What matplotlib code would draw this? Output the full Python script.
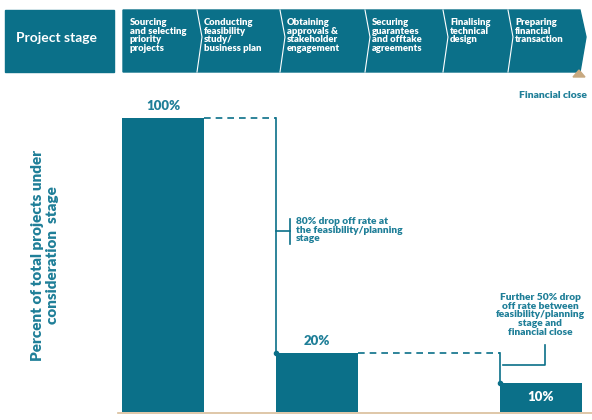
import matplotlib.pyplot as plt
from matplotlib.patches import Polygon, Rectangle

stages = ["Sourcing\nand selecting\npriority\nprojects", "Conducting\nfeasibility\nstudy/\nbusiness plan",
          "Obtaining\napprovals &\nstakeholder\nengagement", "Securing\nguarantees\nand offtake\nagreements",
          "Finalising\ntechnical\ndesign", "Preparing\nfinancial\ntransaction"]
values = [100, 20, 10]
labels = ["100%", "20%", "10%"]

teal = "#0b7089"
txt = "#1f7f98"
plt.rcParams['font.family'] = ['Lato', 'DejaVu Sans']

fig = plt.figure(figsize=(5.92, 4.2), dpi=100)

# overlay axes in pixel coordinates for header
ov = fig.add_axes([0, 0, 1, 1])
ov.set_xlim(0, 592)
ov.set_ylim(420, 0)
ov.axis("off")

ov.add_patch(Rectangle((5, 10), 109, 62, color=teal))
ov.text(16, 38, "Project stage", color="white", fontsize=10, fontweight="bold", va="center")
edges = [123, 197, 280, 365, 443, 508, 580]
ov.add_patch(Polygon([(123, 10), (580, 10), (586, 37), (580, 72), (123, 72)], color=teal))
for e in edges[1:-1]:
    ov.plot([e, e + 5, e], [10, 37, 72], color="white", lw=0.8)
for i, s in enumerate(stages):
    ov.text(edges[i] + 7, 18, s, color="white", fontsize=6.8, fontweight="heavy",
            va="top", linespacing=0.95)
ov.add_patch(Polygon([(573, 77), (585, 77), (579, 70)], color="#c8a980"))
ov.text(587, 95, "Financial close", color=txt, fontsize=7.5, fontweight="heavy", ha="right", va="center")
ov.text(45, 255, "Percent of total projects under\nconsideration  stage", color=txt, fontsize=11,
        fontweight="heavy", rotation=90, ha="center", va="center")
ov.plot([118, 592], [412.5, 412.5], color="#d9bd9a", lw=1.2)

# bar axes
ax = fig.add_axes([110 / 592, 8 / 420, 482 / 592, 294 / 420])
xs = [163, 317, 541]
w = 82
ax.bar(xs, values, width=w, color=teal)
ax.set_xlim(110, 592)
ax.set_ylim(0, 100)
ax.axis("off")
ax.text(xs[0], values[0] + 2, labels[0], ha="center", va="bottom", color=txt, fontsize=9.5, fontweight="heavy")
ax.text(xs[1], values[1] + 2, labels[1], ha="center", va="bottom", color=txt, fontsize=9.5, fontweight="heavy")
ax.text(xs[2], values[2] / 2, labels[2], ha="center", va="center", color="white", fontsize=9.5, fontweight="heavy")

# connectors
x1 = xs[0] + w / 2
x2 = xs[1] - w / 2
ax.plot([x1, x2], [values[0], values[0]], color=teal, lw=1.2, ls=(0, (4, 3)), clip_on=False)
ax.plot([x2, x2], [values[0], values[1]], color=teal, lw=1.2, clip_on=False)
ax.plot([x2], [values[1]], "o", color=teal, ms=3, clip_on=False)
x3 = xs[1] + w / 2
x4 = xs[2] - w / 2
ax.plot([x3, x4], [values[1], values[1]], color=teal, lw=1.2, ls=(0, (4, 3)), clip_on=False)
ax.plot([x4, x4], [values[1], values[2]], color=teal, lw=1.2, clip_on=False)
ax.plot([x4], [values[2]], "o", color=teal, ms=3, clip_on=False)

# annotations (pixel overlay)
ov.plot([276, 290], [231, 231], color=teal, lw=1.2)
ov.plot([290, 290], [219, 244], color=teal, lw=1.2)
ov.text(296, 217, "80% drop off rate at\nthe feasibility/planning\nstage", color=txt, fontsize=7.3,
        fontweight="heavy", va="top", linespacing=0.95)
ov.plot([503, 545, 545], [365, 365, 345], color=teal, lw=1.2)
ov.text(540, 293, "Further 50% drop\noff rate between\nfeasibility/planning\nstage and\nfinancial close",
        color=txt, fontsize=7.3, fontweight="heavy", ha="center", va="top", linespacing=0.95)

fig.savefig("out.png", dpi=100)
